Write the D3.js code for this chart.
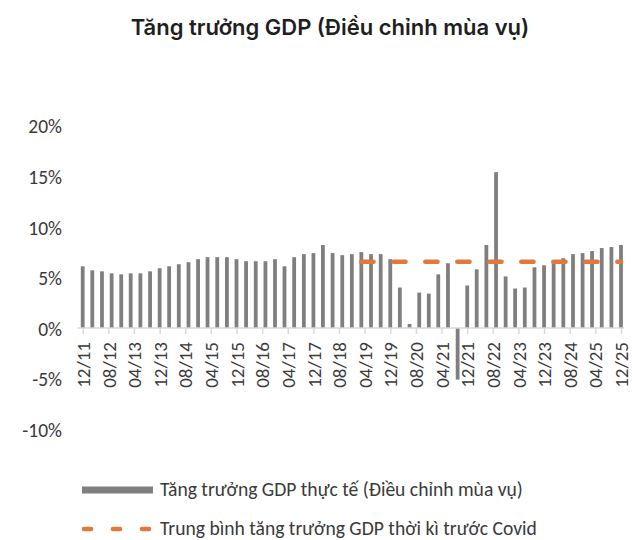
<!DOCTYPE html>
<html>
<head>
<meta charset="utf-8">
<script src="https://cdn.jsdelivr.net/npm/d3@7"></script>
<style>
  body { margin: 0; background: #fff; }
  svg { display: block; }
</style>
</head>
<body>
<svg id="chart" width="632" height="540"></svg>
<script>
// Quarter-end months (mm/yy), Q4 2011 to Q4 2025
const quarters = [
  "12/11",
  "03/12","06/12","09/12","12/12",
  "03/13","06/13","09/13","12/13",
  "03/14","06/14","09/14","12/14",
  "03/15","06/15","09/15","12/15",
  "03/16","06/16","09/16","12/16",
  "03/17","06/17","09/17","12/17",
  "03/18","06/18","09/18","12/18",
  "03/19","06/19","09/19","12/19",
  "03/20","06/20","09/20","12/20",
  "03/21","06/21","09/21","12/21",
  "03/22","06/22","09/22","12/22",
  "03/23","06/23","09/23","12/23",
  "03/24","06/24","09/24","12/24",
  "03/25","06/25","09/25","12/25"
];

// Real GDP growth, seasonally adjusted (%)
const gdpGrowth = [
  6.1,
  5.7, 5.6, 5.4, 5.3,
  5.4, 5.4, 5.6, 5.9,
  6.1, 6.3, 6.5, 6.8,
  7.0, 7.0, 7.0, 6.8,
  6.6, 6.6, 6.6, 6.8,
  6.1, 7.0, 7.3, 7.4,
  8.2, 7.4, 7.2, 7.3,
  7.5, 7.3, 7.3, 6.8,
  4.0, 0.4, 3.5, 3.4,
  5.3, 6.4, -5.1, 4.2,
  5.8, 8.2, 15.4, 5.1,
  3.9, 4.0, 6.0, 6.2,
  6.4, 6.9, 7.3, 7.4,
  7.6, 7.9, 8.0, 8.2
];

// Pre-Covid average growth, drawn from its first quarter to the last one
const preCovidAvg = 6.55;
const preCovidFrom = "03/19";

const xTickLabels = [
  "12/11","08/12","04/13","12/13","08/14","04/15","12/15","08/16",
  "04/17","12/17","08/18","04/19","12/19","08/20","04/21","12/21",
  "08/22","04/23","12/23","08/24","04/25","12/25"
];
const yTickValues = [-10, -5, 0, 5, 10, 15, 20];

const legendLabels = [
  "Tăng trưởng GDP thực tế (Điều chỉnh mùa vụ)",
  "Trung bình tăng trưởng GDP thời kì trước Covid"
];
const titleText = "Tăng trưởng GDP (Điều chỉnh mùa vụ)";

const barColor = "#7f7f7f";
const avgColor = "#e2793b";
const axisColor = "#d9d9d9";
const textColor = "#3a3a3a";
const labelFont = "Carlito, Lato, 'Liberation Sans', sans-serif";

const parseMonth = d3.timeParse("%m/%y");
const fmtMonth = d3.timeFormat("%m/%y");

const svg = d3.select("#chart");

const x = d3.scaleTime()
  .domain([parseMonth(quarters[0]), parseMonth(quarters[quarters.length - 1])])
  .range([82.7, 621]);

const y = d3.scaleLinear()
  .domain([-10, 20])
  .range([429.2, 125.6]);

// Title
svg.append("text")
  .attr("x", 330)
  .attr("y", 27)
  .attr("dy", "0.35em")
  .attr("text-anchor", "middle")
  .attr("font-family", "Inter, Roboto, sans-serif")
  .attr("font-weight", 600)
  .attr("font-size", 22)
  .attr("fill", "#1f1f1f")
  .text(titleText);

// Y axis labels (no axis line, no gridlines)
const yAxis = d3.axisLeft(y)
  .tickValues(yTickValues)
  .tickSize(0)
  .tickPadding(0)
  .tickFormat(d => d + "%");
const gy = svg.append("g")
  .attr("transform", "translate(62,1)")
  .call(yAxis);
gy.select(".domain").remove();
gy.selectAll("text")
  .attr("font-family", labelFont)
  .attr("font-size", 19.5)
  .attr("fill", textColor);

// Bars
const barW = 3.8;
svg.append("g")
  .selectAll("rect")
  .data(quarters.map((q, i) => ({ date: parseMonth(q), value: gdpGrowth[i] })))
  .join("rect")
  .attr("x", d => x(d.date) - barW / 2)
  .attr("y", d => y(Math.max(0, d.value)))
  .attr("width", barW)
  .attr("height", d => Math.abs(y(d.value) - y(0)))
  .attr("fill", barColor);

// Category axis at 0% with ticks every 8 months
const xAxis = d3.axisBottom(x)
  .tickValues(xTickLabels.map(parseMonth))
  .tickSize(6)
  .tickPadding(0)
  .tickFormat(fmtMonth);
const gx = svg.append("g")
  .attr("transform", `translate(0,${y(0)})`)
  .call(xAxis);
gx.select(".domain").remove();
gx.append("line")
  .attr("x1", x.range()[0] - 5)
  .attr("x2", x.range()[1] + 3)
  .attr("stroke", axisColor)
  .attr("stroke-width", 1.5);
gx.selectAll(".tick line")
  .attr("stroke", axisColor)
  .attr("stroke-width", 1.5);
gx.selectAll(".tick text")
  .attr("font-family", labelFont)
  .attr("font-size", 19)
  .attr("fill", textColor)
  .attr("text-anchor", "end")
  .attr("transform", "translate(0,14) rotate(-90)")
  .attr("x", 0)
  .attr("y", 0)
  .attr("dy", "0.35em");

// Pre-Covid average line
const fromIdx = quarters.indexOf(preCovidFrom);
const avgPoints = quarters.slice(fromIdx).map(q => [x(parseMonth(q)), y(preCovidAvg)]);
svg.append("path")
  .attr("d", d3.line()(avgPoints))
  .attr("fill", "none")
  .attr("stroke", avgColor)
  .attr("stroke-width", 4.6)
  .attr("stroke-linecap", "round")
  .attr("stroke-dasharray", "12.2,19.8");

// Legend
const legend = svg.append("g");
legend.append("rect")
  .attr("x", 82)
  .attr("y", 486.5)
  .attr("width", 71)
  .attr("height", 7)
  .attr("fill", barColor);
legend.append("line")
  .attr("x1", 84).attr("x2", 151)
  .attr("y1", 529).attr("y2", 529)
  .attr("stroke", avgColor)
  .attr("stroke-width", 4.6)
  .attr("stroke-linecap", "round")
  .attr("stroke-dasharray", "7,22");
legend.selectAll("text")
  .data(legendLabels)
  .join("text")
  .attr("x", 160)
  .attr("y", (d, i) => 489.5 + i * 38.5)
  .attr("dy", "0.35em")
  .attr("font-family", labelFont)
  .attr("font-size", 19.6)
  .attr("fill", textColor)
  .text(d => d);
</script>
</body>
</html>
